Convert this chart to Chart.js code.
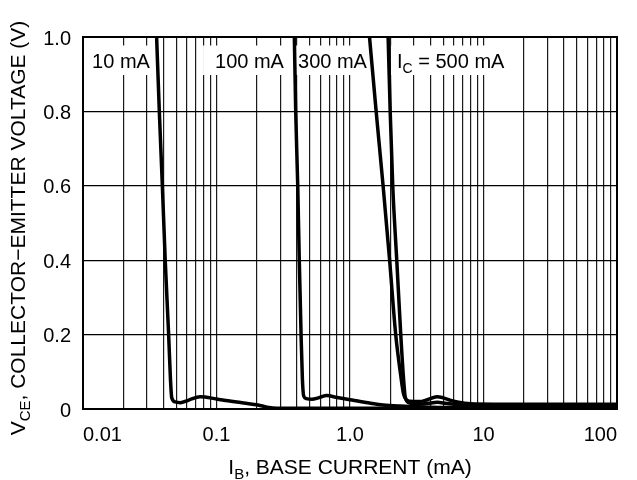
<!DOCTYPE html>
<html>
<head>
<meta charset="utf-8">
<script src="https://cdn.jsdelivr.net/npm/chart.js@4/dist/chart.umd.min.js"></script>
<style>
html,body{margin:0;padding:0;background:#fff}
#wrap{width:637px;height:480px;position:relative}
</style>
</head>
<body>
<div id="wrap"><canvas id="c" width="637" height="480"></canvas></div>
<script>
// ---- data (IB in mA, VCE in V) ----
const ic10_ib  = [0.0356,0.0373,0.0393,0.0413,0.0438,0.0452,0.0462,0.049,0.0535,0.062,0.0755,0.1,0.122,0.16,0.2045,0.239,0.284,0.5,1,10,100];
const ic10_vce = [1.0,0.8,0.6,0.4,0.2,0.08,0.03,0.019,0.017,0.024,0.033,0.027,0.022,0.016,0.011,0.005,0.002,0.002,0.002,0.002,0.002];

const ic100_ib  = [0.383,0.392,0.406,0.417,0.430,0.440,0.450,0.470,0.520,0.580,0.670,0.800,1.0,1.19,1.4,1.77,2.37,4,8,30,100];
const ic100_vce = [1.0,0.8,0.6,0.4,0.2,0.08,0.035,0.028,0.026,0.030,0.036,0.031,0.025,0.020,0.016,0.011,0.008,0.005,0.004,0.004,0.004];

const ic300_ib  = [1.40,1.57,1.77,1.98,2.20,2.40,2.52,2.65,2.80,3.30,3.80,4.47,5.0,5.6,6.5,8,12,30,100];
const ic300_vce = [1.0,0.8,0.6,0.4,0.2,0.09,0.04,0.024,0.021,0.020,0.025,0.033,0.030,0.024,0.018,0.014,0.013,0.013,0.013];

const ic500_ib  = [1.93,2.0,2.09,2.24,2.40,2.52,2.60,2.80,3.30,4.0,4.5,5.3,7,12,30,100];
const ic500_vce = [1.0,0.8,0.6,0.4,0.2,0.08,0.03,0.016,0.013,0.016,0.018,0.015,0.012,0.010,0.010,0.010];

// ---- axes ----
const xTickValues = [0.01, 0.1, 1, 10, 100];
const xTickLabels = ['0.01', '0.1', '1.0', '10', '100'];
const xMinorMultipliers = [2,3,4,5,6,7,8,9];
const yTickValues = [0, 0.2, 0.4, 0.6, 0.8, 1.0];
const yTickLabels = ['0', '0.2', '0.4', '0.6', '0.8', '1.0'];

// ---- curve labels ----
const curveLabels = [
  {parts:[{t:'10 mA'}], textX:0.0117, boxFrom:0.0101, boxTo:0.0334},
  {parts:[{t:'100 mA'}], textX:0.0975, boxFrom:0.0793, boxTo:0.361},
  {parts:[{t:'300 mA'}], textX:0.408, boxFrom:0.382, boxTo:1.38},
  {parts:[{t:'I'},{t:'C',sub:true},{t:' = 500 mA'}], textX:2.25, boxFrom:2.03, boxTo:16.9}
];

const FONT = '"Liberation Sans", Arial, Helvetica, sans-serif';
const FS = 20, SUBFS = 14, SUBDY = 5;
const TFS = 21, TSUBFS = 15, TSUBDY = 5;

function toPts(xs, ys){ return xs.map((x,i)=>({x:x, y:ys[i]})); }

const gridValues = [];
for (let d = 0; d < xTickValues.length; d++) {
  gridValues.push(xTickValues[d]);
  if (d < xTickValues.length - 1) {
    xMinorMultipliers.forEach(m => gridValues.push(Number((m * xTickValues[d]).toPrecision(4))));
  }
}

function richWidth(ctx, parts, fs, sfs){
  let w = 0;
  parts.forEach(p => { ctx.font = (p.sub?sfs:fs) + 'px ' + FONT; w += ctx.measureText(p.t).width; });
  return w;
}
function drawRich(ctx, parts, x, y, fs, sfs, sdy){
  let cx = x;
  parts.forEach(p => {
    ctx.font = (p.sub?sfs:fs) + 'px ' + FONT;
    ctx.fillText(p.t, cx, y + (p.sub?sdy:0));
    cx += ctx.measureText(p.t).width;
  });
}

const decor = {
  id: 'decor',
  beforeDatasetsDraw(chart){
    const ctx = chart.ctx, xs = chart.scales.x, a = chart.chartArea;
    ctx.save();
    curveLabels.forEach(l => {
      const x0 = xs.getPixelForValue(l.boxFrom), x1 = xs.getPixelForValue(l.boxTo);
      ctx.fillStyle = '#fff';
      ctx.fillRect(x0, a.top + 8.5, x1 - x0, 29.5);
      ctx.fillStyle = '#000';
      ctx.textBaseline = 'alphabetic';
      ctx.textAlign = 'left';
      drawRich(ctx, l.parts, xs.getPixelForValue(l.textX), a.top + 31, FS, SUBFS, SUBDY);
    });
    ctx.restore();
  },
  afterDraw(chart){
    const ctx = chart.ctx, a = chart.chartArea;
    ctx.save();
    ctx.strokeStyle = '#000';
    ctx.lineWidth = 2;
    ctx.strokeRect(a.left, a.top, a.right - a.left, a.bottom - a.top);
    ctx.fillStyle = '#000';
    ctx.textBaseline = 'alphabetic';
    ctx.textAlign = 'left';
    // x title
    const xParts = [{t:'I'},{t:'B',sub:true},{t:', BASE CURRENT (mA)'}];
    const xw = richWidth(ctx, xParts, TFS, TSUBFS);
    drawRich(ctx, xParts, (a.left + a.right)/2 - xw/2, 474, TFS, TSUBFS, TSUBDY);
    // y title
    const yParts = [{t:'V'},{t:'CE',sub:true},{t:', COLLECTOR\u2212EMITTER VOLTAGE (V)'}];
    const yw = richWidth(ctx, yParts, TFS, TSUBFS);
    ctx.translate(25, 228);
    ctx.rotate(-Math.PI/2);
    drawRich(ctx, yParts, -yw/2, 0, TFS, TSUBFS, TSUBDY);
    ctx.restore();
  }
};

const series = [
  {label:'IC = 10 mA', data: toPts(ic10_ib, ic10_vce)},
  {label:'IC = 100 mA', data: toPts(ic100_ib, ic100_vce)},
  {label:'IC = 300 mA', data: toPts(ic300_ib, ic300_vce)},
  {label:'IC = 500 mA', data: toPts(ic500_ib, ic500_vce)}
];

new Chart(document.getElementById('c'), {
  type: 'line',
  data: {
    datasets: series.map(s => ({
      label: s.label, data: s.data,
      borderColor: '#000', borderWidth: 3.5, pointRadius: 0, fill: false,
      cubicInterpolationMode: 'monotone'
    }))
  },
  options: {
    responsive: false,
    animation: false,
    devicePixelRatio: 1,
    layout: {padding: {left: 0, right: 20, top: 37, bottom: 0}},
    plugins: {legend: {display: false}, tooltip: {enabled: false}},
    scales: {
      x: {
        type: 'logarithmic', min: 0.01, max: 100, position: 'bottom',
        afterBuildTicks(scale){ scale.ticks = gridValues.map(v => ({value: v})); },
        afterFit(scale){ scale.height = 71; },
        grid: {color: '#1a1a1a', lineWidth: 1.2, drawTicks: false},
        border: {display: false},
        ticks: {
          autoSkip: false, maxRotation: 0, minRotation: 0, align: 'inner',
          padding: 14, color: '#000', font: {family: FONT, size: FS},
          callback(value){
            const i = xTickValues.findIndex(t => Math.abs(t - value) / t < 1e-6);
            return i >= 0 ? xTickLabels[i] : '';
          }
        }
      },
      y: {
        type: 'linear', min: 0, max: 1,
        afterBuildTicks(scale){ scale.ticks = yTickValues.map(v => ({value: v})); },
        afterFit(scale){ scale.width = 83; },
        grid: {color: '#000', lineWidth: 1.2, drawTicks: false},
        border: {display: false},
        ticks: {
          padding: 12, labelOffset: 2, color: '#000', font: {family: FONT, size: FS},
          callback(value){
            const i = yTickValues.findIndex(t => Math.abs(t - value) < 1e-9);
            return i >= 0 ? yTickLabels[i] : '';
          }
        }
      }
    }
  },
  plugins: [decor]
});
</script>
</body>
</html>
